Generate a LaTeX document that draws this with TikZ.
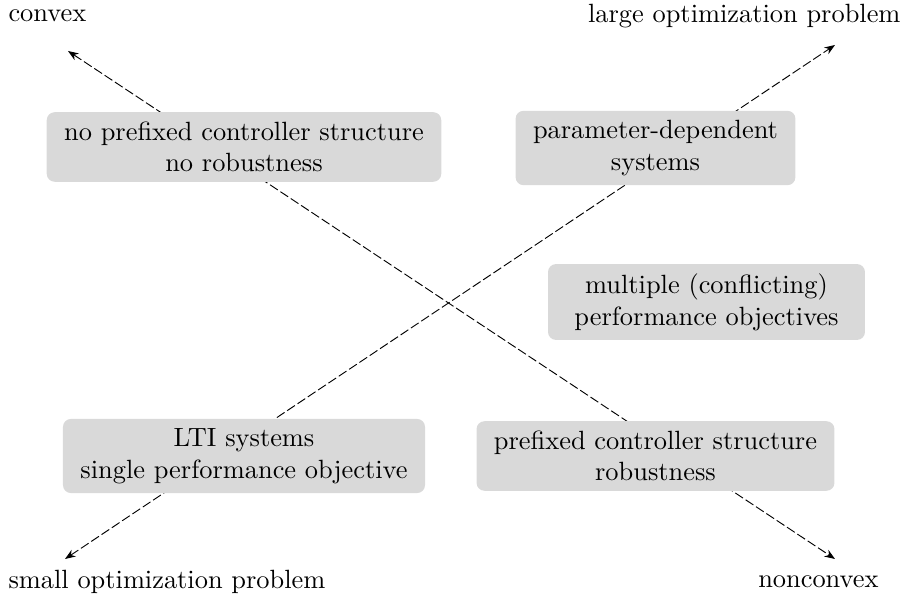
\documentclass[tikz,border=0pt]{standalone}
\usetikzlibrary{arrows.meta}
\begin{document}
\begin{tikzpicture}[x=0.379pt,y=-0.379pt,
  box/.style={fill=black!15,rounded corners=3pt,align=center,inner xsep=6.6pt,inner ysep=3.6pt},
  lbl/.style={inner sep=0pt},
  axis/.style={{Stealth[length=4pt,width=3pt]}-{Stealth[length=4pt,width=3pt]},dash pattern=on 3.5pt off 1.2pt,line width=0.35pt}]
\useasboundingbox (0,0) rectangle (903,598);
\node[lbl,anchor=west] (convex) at (8,16) {convex};
\node[lbl,anchor=east] (large) at (901,16) {large optimization problem};
\node[lbl,anchor=west] (small) at (8,582) {small optimization problem};
\node[lbl,anchor=east] (noncon) at (879,582) {nonconvex};
\coordinate (tl) at (68,51);
\coordinate (br) at (835,559);
\coordinate (bl) at (65,559);
\coordinate (tr) at (835,45);
\draw[axis] (tl) -- (br);
\draw[axis] (bl) -- (tr);
\node[box] (a) at (244,147) {no prefixed controller structure\\no robustness};
\node[box] (b) at (655.5,148) {parameter-dependent\\systems};
\node[box,inner xsep=10pt] (c) at (706.5,302) {multiple (conflicting)\\performance objectives};
\node[box] (d) at (244,456) {LTI systems\\single performance objective};
\node[box] (e) at (655.5,456) {prefixed controller structure\\robustness};
\end{tikzpicture}
\end{document}
